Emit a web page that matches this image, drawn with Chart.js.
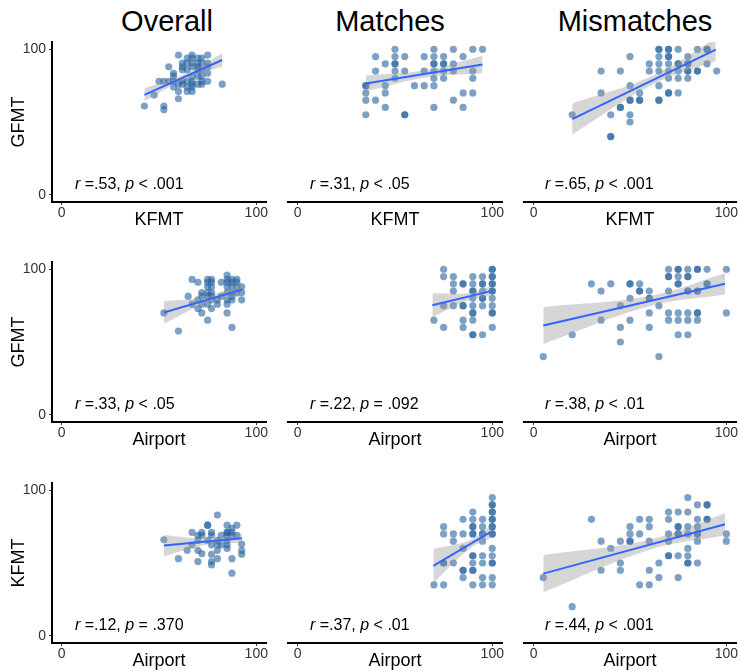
<!DOCTYPE html>
<html>
<head>
<meta charset="utf-8">
<script src="https://cdn.jsdelivr.net/npm/chart.js@4"></script>
<style>
  body { margin: 0; background: #fff; width: 740px; height: 672px; position: relative; overflow: hidden;
         font-family: "Liberation Sans", Arial, sans-serif; }
  canvas { position: absolute; }
  .title { position: absolute; top: 7px; font-size: 29px; line-height: 1; transform: translateX(-50%); white-space: nowrap; }
  .stat { position: absolute; font-size: 16px; line-height: 1; white-space: nowrap; }
</style>
</head>
<body>
<script>
// ---- data ----
const colTitles = ['Overall', 'Matches', 'Mismatches'];
const xTitles = ['KFMT', 'Airport', 'Airport'];
const yTitles = ['GFMT', 'GFMT', 'KFMT'];
const statR = ['.53', '.31', '.65', '.33', '.22', '.38', '.12', '.37', '.44'];
const statP = ['< .001', '< .05', '< .001', '< .05', '= .092', '< .01', '= .370', '< .01', '< .001'];

// overall panels: [x, y] pairs
const ovKfmtGfmt = [[60,96],[67,96],[75,96],[64.5,94],[67,94],[70,94],[72,94],[62,90.5],[64.5,90.5],[67,90.5],[70,90.5],[72,90.5],[75,90.5],[55,88],[62,88],[67,88],[70,88],[75,88],[57.5,83.5],[62,86],[64.5,86],[70,86],[72,86],[75,83.5],[70,81.5],[72,81.5],[67,81.5],[57.5,81.5],[50,78],[52.5,78],[55,78],[57.5,78],[62,78],[67,78],[72,78],[75,78],[82.5,76],[60,76],[62,76],[67,76],[70,76],[72,76],[64.5,74],[67,74],[60,71],[64.5,71],[67,71],[47.5,68.5],[60,66],[42.5,61],[52.5,61],[52.5,58.5],[57.5,74],[64.5,78]];
const ovAirGfmt = [[67,93],[70,91],[75,93],[77,93],[85,96],[85,93],[87.5,93],[90,93],[75,91],[77,91],[82,91],[85,91],[87.5,91],[90,91],[92.5,88],[75,88],[77,88],[85,88],[87.5,88],[90,88],[72,84],[75,84],[77,84],[85,84],[87.5,84],[90,84],[92.5,84],[65,81.5],[72,81.5],[75,81.5],[77,81.5],[80,79],[80,76],[77,79],[85,79],[87.5,79],[92.5,79],[67,76],[72,76],[75,76],[85,76],[70,73],[72,70],[77,73],[85,70],[75,65],[52.5,70],[60,57.5],[87.5,60],[82,81.5],[87.5,81.5],[70,79]];
const ovAirKfmt = [[80,83],[75,76],[75,76],[85,76],[90,76],[87.5,74],[67,71],[72,71],[77,71],[85,71],[85,71],[87.5,71],[52.5,66],[70,69],[72,69],[77,69],[82,69],[85,69],[87.5,69],[90,69],[67,62.5],[70,65.5],[75,65.5],[80,65.5],[85,65.5],[92.5,63],[77,62.5],[80,62.5],[82,62.5],[85,62.5],[64.5,58.7],[70,58.7],[72,56.5],[77,56],[80,58.7],[85,60],[92.5,58.7],[92.5,56],[60,53],[70,51],[77,51],[77,48.7],[80,53],[87.5,53],[87.5,43]];

// match / mismatch panels: [y, [x values at that y]]
const mtKfmtGfmt = [[100,[50,70,80,90,95]],[95,[40,50,55,65,70,75,85]],[90,[45,50,50,70,70,75,75,80]],[85,[40,50,55,65,70,75,80,90]],[80,[50,70,75,90]],[75,[35,35,45,60,65,70]],[70,[35,45,85,90]],[65,[35,40,80]],[60,[45,70,85]],[55,[35,55,55]]];
const mmKfmtGfmt = [[100,[65,65,70,70,75,85,90,90]],[95,[50,65,70,70,80]],[90,[60,65,70,75,75,80,80,90]],[85,[35,45,60,65,70,75,80,80,85,85,95]],[80,[70,75,80]],[75,[50,65]],[70,[35,55,70,70,75]],[65,[50,50,55,55,65,65]],[60,[45,45]],[55,[20,40,50]],[50,[50]],[40,[40,40]]];
const mtAirGfmt = [[100,[75,100,100]],[95,[75,80,90,95,100,100]],[90,[80,85,85,90,95,95,100,100]],[85,[80,90,90,95,100,100]],[80,[90,95,95,100]],[75,[75,80,85,85,90,95,100]],[70,[90,90,100,100]],[65,[70,85,90]],[60,[75,85,100]],[55,[90,90,95]]];
const mmAirGfmt = [[100,[70,75,75,80,85,85,90,100]],[95,[70,70,75,80,80]],[90,[30,40,50,50,55,75,75,90,90]],[85,[35,55,55,60,70,80,80,85,85]],[80,[50,60,60]],[75,[45,65]],[70,[60,70,75,80,85,85,100]],[65,[35,50,70,75,80,85]],[60,[45,60]],[55,[20,75,80]],[50,[45]],[40,[5,65]]];
const mtAirKfmt = [[95,[100]],[90,[100,100]],[85,[90,100,100]],[80,[85,90,95,100,100]],[75,[75,90,90,95,100,100]],[70,[75,80,85,90,90,95,95,100,100]],[65,[80,95]],[60,[85,100]],[55,[90,90,95,100]],[50,[75,75,80,90,95,100,100]],[45,[85,85,90,90]],[40,[85,95,100]],[35,[70,75,90,95,100]]];
const mmAirKfmt = [[95,[80]],[90,[85,90,90]],[85,[70,75,80]],[80,[30,55,60,70,85,90,90]],[75,[50,60,75,75,80,85]],[70,[50,55,70,75,75,80,85,85,100]],[65,[35,45,50,50,60,70,85,100]],[60,[40,80]],[55,[70,70,75,80]],[50,[45,65,80,80,85]],[45,[35,45,60]],[40,[5,65,75]],[35,[55,60]],[20,[20]]];

// fitted lines: [x, y] at both ends
const fitLines = [
  [[42.5,68.7],[82.5,92.6]], [[35,76.5],[95,89.5]], [[20,52],[94.5,99.8]],
  [[52.5,70.3],[92.6,86]], [[69.2,75.3],[98.8,84.8]], [[5,61.4],[99.3,90]],
  [[52.5,62],[92.6,67]], [[69.7,48],[98.8,71]], [[5,42.7],[99.3,76.6]]
];
// confidence bands: [x, lower, upper]
const fitBands = [
  [[42.5,64.2,73.2],[62.5,78.9,82.5],[82.5,88.1,97.1]],
  [[35,71.1,81.9],[65,80.5,85.5],[95,83.5,95.5]],
  [[20,41.4,62.6],[62,75.9,81.9],[94.5,92,107.6]],
  [[52.5,62.5,78.1],[75,76.9,81.3],[92.6,81.5,90.5]],
  [[69.2,67.1,83.5],[88,78.9,83.7],[98.8,81.5,88.1]],
  [[5,48.7,74.1],[60,74.6,81.6],[99.3,82.7,97.3]],
  [[52.5,54.7,69.3],[75,62.8,66.8],[92.6,63.7,70.3]],
  [[69.7,36.3,59.7],[88,59.5,65.5],[98.8,67,75]],
  [[5,29.9,55.5],[60,59,66],[99.3,69,84.2]]
];

// ---- layout ----
const FONT = '"Liberation Sans", Arial, sans-serif';
const COL_LEFT = [0, 284, 520], COL_W = [270, 222, 220], Y_AXIS_W = 52;
const ROW_TOP = [38, 258, 479];
const PLOT_H = 164, XAXIS_H = 29;
const TITLE_X = [167, 390, 635];
const STAT_LEFT = [75, 310, 545], STAT_TOP = [176, 396, 617];

const pairsToPoints = p => p.map(([x, y]) => ({x, y}));
const rowsToPoints = rows => rows.flatMap(([y, xs]) => xs.map(x => ({x, y})));
const panelPoints = [
  pairsToPoints(ovKfmtGfmt), rowsToPoints(mtKfmtGfmt), rowsToPoints(mmKfmtGfmt),
  pairsToPoints(ovAirGfmt), rowsToPoints(mtAirGfmt), rowsToPoints(mmAirGfmt),
  pairsToPoints(ovAirKfmt), rowsToPoints(mtAirKfmt), rowsToPoints(mmAirKfmt)
];

colTitles.forEach((t, c) => {
  const d = document.createElement('div');
  d.className = 'title';
  d.style.left = TITLE_X[c] + 'px';
  d.textContent = t;
  document.body.appendChild(d);
});

function renderPanel(i) {
  const r = Math.floor(i / 3), c = i % 3;
  const cv = document.createElement('canvas');
  cv.width = COL_W[c];
  cv.height = PLOT_H + XAXIS_H;
  cv.style.left = COL_LEFT[c] + 'px';
  cv.style.top = ROW_TOP[r] + 'px';
  document.body.appendChild(cv);

  const stat = document.createElement('div');
  stat.className = 'stat';
  stat.style.left = STAT_LEFT[c] + 'px';
  stat.style.top = STAT_TOP[r] + 'px';
  stat.innerHTML = `<i>r</i> =${statR[i]}, <i>p</i> ${statP[i]}`;
  document.body.appendChild(stat);

  const axisCommon = {
    type: 'linear', min: -5, max: 105,
    afterBuildTicks: s => { s.ticks = [{value: 0}, {value: 100}]; },
    border: {display: true, color: '#000', width: 2},
    grid: {display: true, drawOnChartArea: false, drawTicks: true, tickLength: 3, color: '#333'},
  };

  new Chart(cv.getContext('2d'), {
    type: 'line',
    data: {
      datasets: [
        { data: pairsToPoints(fitLines[i]), borderColor: '#3366FF', borderWidth: 2, pointRadius: 0, fill: false },
        { data: fitBands[i].map(([x, lo, hi]) => ({x, y: hi})), borderColor: 'rgba(0,0,0,0)', borderWidth: 0,
          pointRadius: 0, tension: 0.4, fill: 2, backgroundColor: 'rgba(153,153,153,0.4)' },
        { data: fitBands[i].map(([x, lo]) => ({x, y: lo})), borderColor: 'rgba(0,0,0,0)', borderWidth: 0,
          pointRadius: 0, tension: 0.4, fill: false },
        { data: panelPoints[i], showLine: false, pointRadius: 3.6, pointBorderWidth: 0,
          pointBackgroundColor: 'rgba(38,98,158,0.6)', pointBorderColor: 'rgba(0,0,0,0)' }
      ]
    },
    options: {
      responsive: false, animation: false, events: [],
      layout: {padding: {left: 0, right: 3, top: 0, bottom: 0}},
      plugins: {legend: {display: false}, tooltip: {enabled: false}},
      scales: {
        x: {
          ...axisCommon,
          afterFit: s => { s.height = XAXIS_H; s.paddingLeft = 0; s.paddingRight = 0; },
          ticks: {color: '#333', font: {size: 14, family: FONT}, padding: 0, maxRotation: 0, autoSkip: false},
          title: {display: true, text: xTitles[r], color: '#000', font: {size: 18, family: FONT}, padding: 0}
        },
        y: {
          ...axisCommon,
          display: c === 0,
          afterFit: s => { s.width = c === 0 ? Y_AXIS_W : 0; s.paddingTop = 0; s.paddingBottom = 0; },
          ticks: {color: '#333', font: {size: 14, family: FONT}, padding: 3},
          title: {display: true, text: yTitles[r], color: '#000', font: {size: 18, family: FONT}, padding: {top: 8, bottom: 0}}
        }
      }
    }
  });
}

for (let i = 0; i < 9; i++) renderPanel(i);
</script>
</body>
</html>
